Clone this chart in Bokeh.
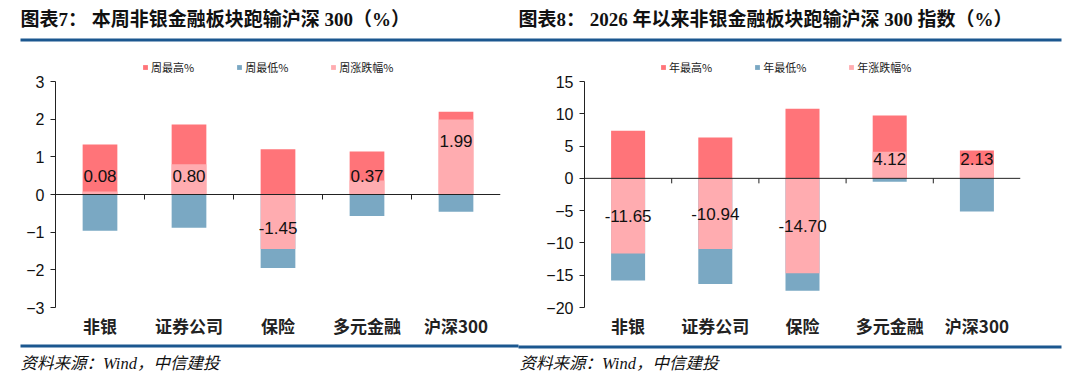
from bokeh.plotting import figure
from bokeh.layouts import row, column
from bokeh.models import (ColumnDataSource, Span, Legend, LegendItem, FixedTicker, Range1d)
from bokeh.core.properties import value
from bokeh.embed import file_html
from bokeh.resources import INLINE

categories = ["非银", "证券公司", "保险", "多元金融", "沪深300"]

week_high = [1.33, 1.86, 1.20, 1.14, 2.20]
week_low = [-0.96, -0.88, -1.95, -0.57, -0.46]
week_change = [0.08, 0.80, -1.45, 0.37, 1.99]

year_high = [7.37, 6.34, 10.77, 9.74, 4.33]
year_low = [-15.83, -16.35, -17.40, -0.54, -5.15]
year_change = [-11.65, -10.94, -14.70, 4.12, 2.13]

week_ticks = [-3, -2, -1, 0, 1, 2, 3]
year_ticks = [-20, -15, -10, -5, 0, 5, 10, 15]

week_legend = ["周最高%", "周最低%", "周涨跌幅%"]
year_legend = ["年最高%", "年最低%", "年涨跌幅%"]

title_left = "图表7：  本周非银金融板块跑输沪深 300（%）"
title_right = "图表8：  2026 年以来非银金融板块跑输沪深 300 指数（%）"
source_text = "资料来源：Wind，中信建投"

C_HIGH = "#ff7479"
C_LOW = "#7aa8c3"
C_CHG = "#ffacb0"
C_RULE = "#1b578f"

CJK = "Noto Sans CJK SC"
SANS = "Liberation Sans"
SERIF_CJK = "Liberation Serif, Noto Sans CJK SC"

TOTAL_W = 1072
LEFT_W = 518
RIGHT_W = TOTAL_W - LEFT_W
HEAD_H = 44
CHART_H = 297
FOOT_H = 40
PAD_TOP = 37     # px between chart top and the top tick
PAD_BOTTOM = 34  # px between the bottom tick and chart bottom
CAT_OFFSET = 18  # px from bottom tick to category label centre


def band(height):
    f = figure(width=TOTAL_W, height=height, x_range=Range1d(0, TOTAL_W),
               y_range=Range1d(height, 0), toolbar_location=None, output_backend="svg",
               min_border=0, outline_line_color=None, x_axis_location=None,
               y_axis_location=None, background_fill_color="white",
               border_fill_color="white")
    f.xgrid.visible = False
    f.ygrid.visible = False
    return f


header = band(HEAD_H)
header.text(x=[20, LEFT_W], y=[19, 19], text=[title_left, title_right],
            text_font=value(SERIF_CJK), text_font_style="bold", text_font_size="19px",
            text_baseline="middle", text_color="#111111")
header.quad(left=[20], right=[1061], top=[38], bottom=[41], fill_color=C_RULE, line_color=None)

footer = band(FOOT_H)
footer.quad(left=[20], right=[LEFT_W], top=[3], bottom=[6], fill_color=C_RULE, line_color=None)
footer.quad(left=[LEFT_W], right=[1061], top=[4], bottom=[7], fill_color=C_RULE, line_color=None)
footer.text(x=[20, LEFT_W + 1], y=[22, 22], text=[source_text, source_text],
            text_font=value(SERIF_CJK), text_font_style="italic", text_font_size="16.5px",
            text_baseline="middle", text_color="#111111")


def make_chart(width, border_left, border_right, high, low, change, ticks,
               legend_names, legend_x, label_pad, label_min, label_mode):
    ymin, ymax = ticks[0], ticks[-1]
    ppu = (CHART_H - PAD_TOP - PAD_BOTTOM) / (ymax - ymin)
    ytop = ymax + PAD_TOP / ppu
    ybot = ymin - PAD_BOTTOM / ppu
    n = len(categories)
    xs = [i + 0.5 for i in range(n)]

    p = figure(width=width, height=CHART_H, x_range=Range1d(0, n),
               y_range=Range1d(ybot, ytop), toolbar_location=None,
               output_backend="svg", min_border_left=border_left,
               min_border_right=border_right, min_border_top=0,
               min_border_bottom=0, outline_line_color=None,
               x_axis_location=None,
               background_fill_color="white", border_fill_color="white")
    p.xgrid.visible = False
    p.ygrid.visible = False

    ya = p.yaxis[0]
    ya.ticker = FixedTicker(ticks=ticks)
    ya.bounds = (ymin, ymax)
    ya.axis_line_color = "#222222"
    ya.major_tick_line_color = "#222222"
    ya.major_tick_out = 5
    ya.major_tick_in = 0
    ya.minor_tick_line_color = None
    ya.major_label_text_font = SANS
    ya.major_label_text_font_size = "16px"
    ya.major_label_text_color = "#111111"
    ya.major_label_standoff = 6

    bw = 0.39
    r_high = p.vbar(x=xs, top=high, bottom=0, width=bw, fill_color=C_HIGH, line_color=None)
    r_low = p.vbar(x=xs, top=0, bottom=low, width=bw, fill_color=C_LOW, line_color=None)
    r_chg = p.vbar(x=xs, top=change, bottom=0, width=bw, fill_color=C_CHG, line_color=None)

    p.add_layout(Span(location=0, dimension="width", line_color="#222222", line_width=1))
    tick_len = 5 / ppu
    bx = list(range(1, n))
    p.segment(x0=bx, x1=bx, y0=[0] * len(bx), y1=[-tick_len] * len(bx),
              line_color="#222222", line_width=1)

    # category names under the plot
    cy = ymin - CAT_OFFSET / ppu
    p.text(x=xs, y=[cy] * n, text=categories, text_align="center", text_baseline="middle",
           text_font=value(CJK), text_font_style="bold", text_font_size="17px",
           text_color="#222222")

    if label_mode == "end":
        ly = [(1 if v >= 0 else -1) * max(abs(v) - label_pad / ppu, label_min / ppu) for v in change]
    else:
        ly = [(1 if v >= 0 else -1) * max(abs(v) / 2, label_min / ppu) for v in change]
    src = ColumnDataSource(dict(x=xs, y=ly, t=["%.2f" % v for v in change]))
    p.text(x="x", y="y", text="t", source=src, text_align="center", text_baseline="middle",
           text_font=value(SANS), text_font_size="17px", text_color="#111111")

    frame_h = CHART_H
    legend = Legend(items=[LegendItem(label=legend_names[0], renderers=[r_high]),
                           LegendItem(label=legend_names[1], renderers=[r_low]),
                           LegendItem(label=legend_names[2], renderers=[r_chg])],
                    orientation="horizontal", location=(legend_x, frame_h - 31),
                    glyph_width=6, glyph_height=6, label_standoff=3, spacing=42,
                    padding=0, margin=0, border_line_color=None,
                    background_fill_alpha=0, label_height=12,
                    label_text_font=CJK, label_text_font_size="11px",
                    label_text_color="#1a1a1a")
    p.add_layout(legend)
    return p


p1 = make_chart(LEFT_W, 55, 18, week_high, week_low, week_change,
                week_ticks, week_legend, 87, 21, 19, "end")
p2 = make_chart(RIGHT_W, 66, 52, year_high, year_low, year_change,
                year_ticks, year_legend, 76, 21, 19, "center")

layout = column(header, row(p1, p2), footer)
open("out.html", "w").write(file_html(layout, INLINE))
